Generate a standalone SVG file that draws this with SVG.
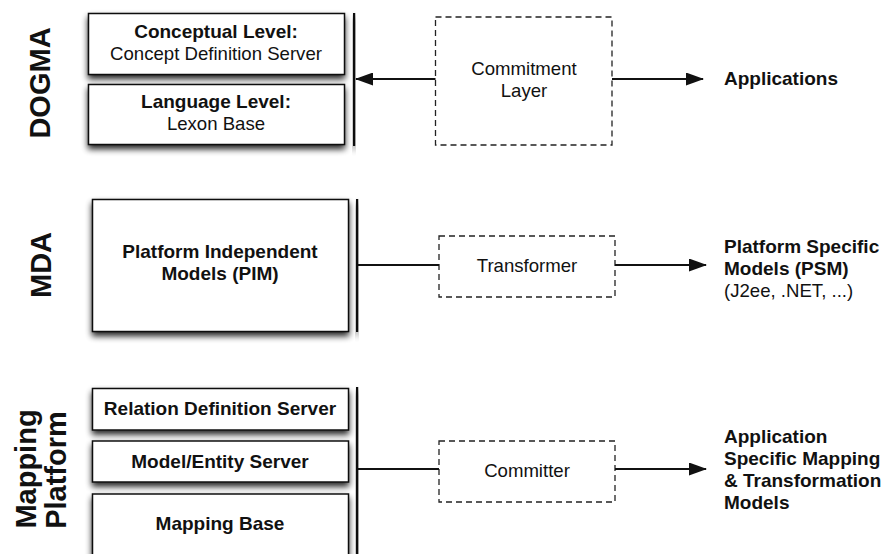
<svg xmlns="http://www.w3.org/2000/svg" width="883" height="554" viewBox="0 0 883 554">
  <style>
    text { font-family: "Liberation Sans", Arial, Helvetica, sans-serif; fill: #111; }
    .b { font-weight: bold; font-size: 19px; }
    .r { font-size: 18.6px; }
    .big { font-weight: bold; font-size: 29px; }
    .c { text-anchor: middle; }
    .box { fill: #fff; stroke: #111; stroke-width: 1.5; filter: url(#shadow); }
    .bar { fill: #111; filter: url(#shadow); }
    .dash { fill: #fff; stroke: #222; stroke-width: 1.3; stroke-dasharray: 6 4; }
    .wire { fill: none; stroke: #111; stroke-width: 1.8; }
  </style>
  <defs>
    <filter id="shadow" x="-15%" y="-15%" width="140%" height="150%">
      <feGaussianBlur in="SourceAlpha" stdDeviation="3"/>
      <feOffset dx="0" dy="3.5" result="blur"/>
      <feComponentTransfer><feFuncA type="linear" slope="0.85"/></feComponentTransfer>
      <feMerge><feMergeNode/><feMergeNode in="SourceGraphic"/></feMerge>
    </filter>
    <marker id="head" markerUnits="userSpaceOnUse" markerWidth="18" markerHeight="13" refX="17" refY="6.5" orient="auto">
      <path d="M0,0 L18,6.5 L0,13 Z" fill="#111"/>
    </marker>
  </defs>

  <rect width="883" height="554" fill="#fff"/>

  <!-- side labels -->
  <g id="label-dogma">
    <text class="big c" transform="translate(50,83) rotate(-90)">DOGMA</text>
  </g>
  <g id="label-mda">
    <text class="big c" transform="translate(51,265) rotate(-90)">MDA</text>
  </g>
  <g id="label-mapping">
    <text class="big c" transform="translate(36,469) rotate(-90)">Mapping</text>
    <text class="big c" transform="translate(66,470) rotate(-90)">Platform</text>
  </g>

  <!-- DOGMA stack -->
  <g id="conceptual-level">
    <rect class="box" x="88.5" y="13.5" width="256" height="61"/>
    <text class="b c" x="216" y="38">Conceptual Level:</text>
    <text class="r c" x="216" y="60">Concept Definition Server</text>
  </g>
  <g id="language-level">
    <rect class="box" x="88.5" y="84.5" width="256" height="60"/>
    <text class="b c" x="216" y="108">Language Level:</text>
    <text class="r c" x="216" y="130">Lexon Base</text>
  </g>
  <g id="dogma-bar">
    <rect class="bar" x="353" y="13" width="2.2" height="133"/>
  </g>
  <g id="commitment-layer">
    <rect class="dash" x="435.5" y="17" width="176.5" height="128"/>
    <text class="r c" x="524" y="75">Commitment</text>
    <text class="r c" x="524" y="97">Layer</text>
  </g>
  <g id="applications">
    <text class="b" x="724" y="85">Applications</text>
  </g>

  <!-- MDA -->
  <g id="pim">
    <rect class="box" x="92.5" y="199.5" width="256" height="132"/>
    <text class="b c" x="220" y="258">Platform Independent</text>
    <text class="b c" x="220" y="280">Models (PIM)</text>
  </g>
  <g id="mda-bar">
    <rect class="bar" x="356" y="199" width="2.2" height="133"/>
  </g>
  <g id="transformer">
    <rect class="dash" x="439" y="236" width="176" height="61"/>
    <text class="r c" x="527" y="272">Transformer</text>
  </g>
  <g id="psm">
    <text class="b" x="724" y="253">Platform Specific</text>
    <text class="b" x="724" y="275">Models (PSM)</text>
    <text class="r" x="724" y="297">(J2ee, .NET, ...)</text>
  </g>

  <!-- Mapping Platform stack -->
  <g id="relation-definition-server">
    <rect class="box" x="92.5" y="388.5" width="256" height="41.5"/>
    <text class="b c" x="220" y="415">Relation Definition Server</text>
  </g>
  <g id="model-entity-server">
    <rect class="box" x="92.5" y="441" width="256" height="41"/>
    <text class="b c" x="220" y="468">Model/Entity Server</text>
  </g>
  <g id="mapping-base">
    <rect class="box" x="92.5" y="494" width="256" height="80"/>
    <text class="b c" x="220" y="530">Mapping Base</text>
  </g>
  <g id="mapping-bar">
    <rect class="bar" x="356" y="387" width="2.2" height="180"/>
  </g>
  <g id="committer">
    <rect class="dash" x="439" y="441" width="176" height="61"/>
    <text class="r c" x="527" y="477">Committer</text>
  </g>
  <g id="mapping-models">
    <text class="b" x="724" y="443">Application</text>
    <text class="b" x="724" y="465">Specific Mapping</text>
    <text class="b" x="724" y="487">&amp; Transformation</text>
    <text class="b" x="724" y="509">Models</text>
  </g>

  <!-- connectors -->
  <g id="connectors">
    <line class="wire" x1="435.5" y1="79" x2="356" y2="79" marker-end="url(#head)"/>
    <line class="wire" x1="612" y1="79" x2="703" y2="79" marker-end="url(#head)"/>
    <line class="wire" x1="358" y1="265" x2="439" y2="265"/>
    <line class="wire" x1="615" y1="265" x2="706" y2="265" marker-end="url(#head)"/>
    <line class="wire" x1="358" y1="469" x2="439" y2="469"/>
    <line class="wire" x1="615" y1="469" x2="706" y2="469" marker-end="url(#head)"/>
  </g>
</svg>
